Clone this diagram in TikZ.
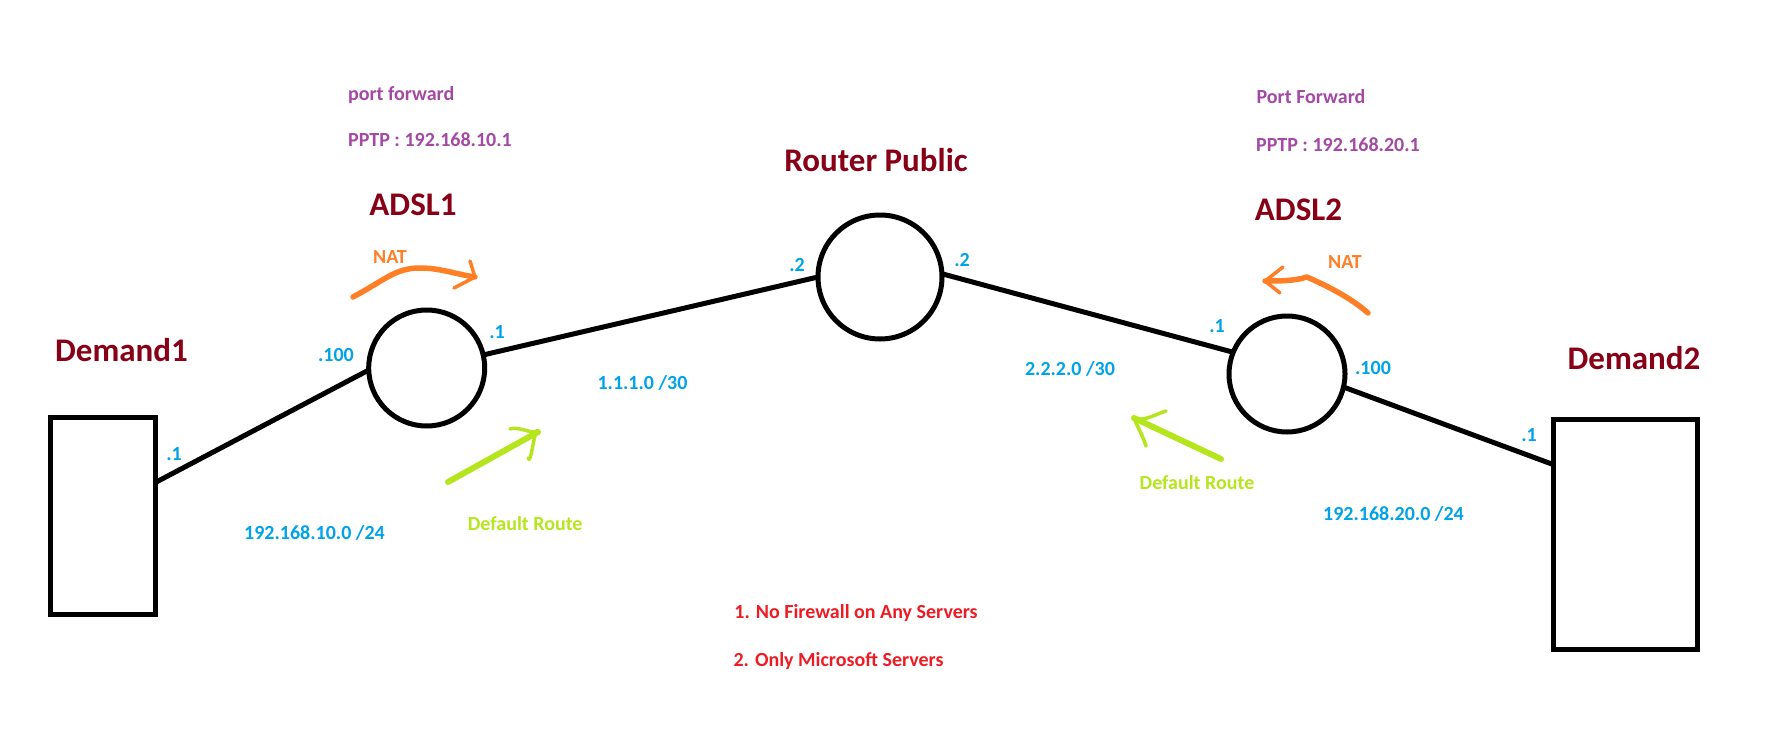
\documentclass[tikz,border=0pt]{standalone}
\usepackage{fontspec}
\setmainfont{Carlito}
\usetikzlibrary{positioning}

\definecolor{netblue}{HTML}{00A2E8}
\definecolor{natorange}{HTML}{FF7F27}
\definecolor{routegreen}{HTML}{B5E61D}
\definecolor{fwdpurple}{HTML}{A349A4}
\definecolor{notered}{HTML}{ED1C24}
\definecolor{namered}{HTML}{880015}

\tikzset{
  routernode/.style={draw,circle,line width=5pt,inner sep=0pt,outer sep=0pt},
  hostbox/.style={draw,rectangle,line width=5pt,inner sep=0pt,outer sep=0pt},
  smalltext/.style={inner sep=0pt,text height=14pt,text depth=4pt,font=\fontsize{20}{24}\selectfont\bfseries},
  biglabel/.style={inner sep=0pt,text height=22pt,text depth=6pt,text=namered,font=\fontsize{33}{38}\selectfont\bfseries},
  netlabel/.style={smalltext,text=netblue},
  natlabel/.style={smalltext,text=natorange},
  routelabel/.style={smalltext,text=routegreen},
  fwdlabel/.style={smalltext,text=fwdpurple},
  notelabel/.style={smalltext,text=notered},
  link/.style={line width=5pt},
  natarrow/.style={draw=natorange,line width=5.5pt,line cap=round,line join=round},
  routearrow/.style={draw=routegreen,line width=6pt,line cap=round,line join=round},
  arrowbarb/.style={line width=3.5pt}
}

\begin{document}
\begin{tikzpicture}[on grid]
        \useasboundingbox (0,0) rectangle (1786pt,-752pt);
        \node[hostbox,minimum width=105pt,minimum height=197pt] (demand_1) at (102.5pt,-515.5pt) {};
        \node[routernode,minimum size=116pt](adsl_1) [above right=147.5pt and 324.2pt of demand_1] {};
        \node[routernode,minimum size=124pt](router_pub) [above right=91pt and 453.3pt of adsl_1] {};
        \node[routernode,minimum size=116pt](adsl_2) [below right=97pt and 407pt of router_pub] {};
        \node[hostbox,minimum width=144pt,minimum height=230pt](demand_2) [below right=160pt and 338pt of adsl_2] {};

        \path[link]
        (demand_1.32) edge (adsl_1.182)
        (adsl_1.13) edge (router_pub.180)
        (router_pub.3) edge (adsl_2.158)
        (adsl_2.-13) edge (demand_2.136);

        % demand 1
        \node[biglabel](name_d1) [above right=162.5pt and 19pt of demand_1] {Demand1};
        \node[netlabel](ip_d1) [above right=60.5pt and 71.5pt of demand_1] {.1};
        \node[netlabel](net_1) [below right=19pt and 212pt of demand_1] {192.168.10.0 /24};

        % adsl 1
        \node[biglabel](name_a1) [above left=161pt and 13.7pt of adsl_1] {ADSL1};
        \node[fwdlabel](fwd_a1) [above left=272.5pt and 25.5pt of adsl_1] {port forward};
        \node[fwdlabel](pptp_a1) [above right=227pt and 3.3pt of adsl_1] {PPTP : 192.168.10.1};
        \node[natlabel](nat_a1) [above left=110pt and 36.7pt of adsl_1] {NAT};
        \node[netlabel](ip_a1w) [above left=12pt and 90.7pt of adsl_1] {.100};
        \node[netlabel](ip_a1e) [above right=35pt and 70.3pt of adsl_1] {.1};
        \node[routelabel](def_a1) [below right=157pt and 98.5pt of adsl_1] {Default Route};
        \node[netlabel](net_2) [below right=16.5pt and 215.8pt of adsl_1] {1.1.1.0 /30};

        % router
        \node[biglabel](name_r) [above left=113.5pt and 4pt of router_pub] {Router Public};
        \node[netlabel](ip_rw) [above left=11pt and 83pt of router_pub] {.2};
        \node[netlabel](ip_re) [above right=16pt and 82pt of router_pub] {.2};
        \node[notelabel](note_1) [below left=336pt and 24pt of router_pub] {1. No Firewall on Any Servers};
        \node[notelabel](note_2) [below left=384pt and 41.5pt of router_pub] {2. Only Microsoft Servers};

        % adsl 2
        \node[biglabel](name_a2) [above right=162pt and 11.5pt of adsl_2] {ADSL2};
        \node[fwdlabel](fwd_a2) [above right=275.5pt and 24pt of adsl_2] {Port Forward};
        \node[fwdlabel](pptp_a2) [above right=227.5pt and 51pt of adsl_2] {PPTP : 192.168.20.1};
        \node[natlabel](nat_a2) [above right=111pt and 58pt of adsl_2] {NAT};
        \node[netlabel](ip_a2w) [above left=47pt and 70pt of adsl_2] {.1};
        \node[netlabel](ip_a2e) [above right=5pt and 86pt of adsl_2] {.100};
        \node[routelabel](def_a2) [below left=110pt and 90pt of adsl_2] {Default Route};
        \node[netlabel](net_3) [above left=4pt and 217pt of adsl_2] {2.2.2.0 /30};

        % demand 2
        \node[biglabel](name_d2) [above right=173pt and 9pt of demand_2] {Demand2};
        \node[netlabel](ip_d2) [above left=98pt and 96pt of demand_2] {.1};
        \node[netlabel](net_4) [above left=19pt and 231.5pt of demand_2] {192.168.20.0 /24};

        % hand drawn arrows
        \coordinate[above left=71pt and 73.7pt of adsl_1] (nat1_a);
        \coordinate[above left=100pt and 6.7pt of adsl_1] (nat1_m);
        \coordinate[above right=91pt and 48.3pt of adsl_1] (nat1_b);
        \coordinate[above right=107pt and 43.3pt of adsl_1] (nat1_h);
        \coordinate[above right=80pt and 27.3pt of adsl_1] (nat1_k);
        \draw[natarrow] (nat1_a) .. controls +(32pt,17pt) and +(-25pt,0pt) .. (nat1_m)
                        .. controls +(20pt,0pt) and +(-20pt,3pt) .. (nat1_b);
        \draw[natarrow,arrowbarb] (nat1_h) -- (nat1_b) -- (nat1_k);

        \coordinate[below right=114pt and 21.3pt of adsl_1] (def1_a);
        \coordinate[below right=64pt and 111.3pt of adsl_1] (def1_b);
        \coordinate[below right=61pt and 83.3pt of adsl_1] (def1_h);
        \coordinate[below right=90pt and 101.3pt of adsl_1] (def1_k);
        \draw[routearrow] (def1_a) -- (def1_b);
        \draw[routearrow,arrowbarb] (def1_h) .. controls +(8pt,3pt) and +(-10pt,-1pt) .. (def1_b)
                        .. controls +(-3pt,10pt) and +(3pt,-10pt) .. (def1_k);

        \coordinate[above right=61pt and 81pt of adsl_2] (nat2_a);
        \coordinate[above right=97pt and 20pt of adsl_2] (nat2_m);
        \coordinate[above left=93pt and 22pt of adsl_2] (nat2_b);
        \coordinate[above left=107pt and 4pt of adsl_2] (nat2_h);
        \coordinate[above left=81pt and 7pt of adsl_2] (nat2_k);
        \draw[natarrow] (nat2_a) .. controls +(-18pt,16pt) and +(18pt,-8pt) .. (nat2_m)
                        .. controls +(-12pt,-4pt) and +(14pt,0pt) .. (nat2_b);
        \draw[natarrow,arrowbarb] (nat2_h) -- (nat2_b) -- (nat2_k);

        \coordinate[below left=85pt and 66pt of adsl_2] (def2_a);
        \coordinate[below left=44pt and 153pt of adsl_2] (def2_b);
        \coordinate[below left=37pt and 121pt of adsl_2] (def2_h);
        \coordinate[below left=72pt and 141pt of adsl_2] (def2_k);
        \draw[routearrow] (def2_a) -- (def2_b);
        \draw[routearrow,arrowbarb] (def2_h) .. controls +(-10pt,-3pt) and +(10pt,-4pt) .. (def2_b)
                        .. controls +(3pt,-8pt) and +(-3pt,10pt) .. (def2_k);
      \end{tikzpicture}
\end{document}
